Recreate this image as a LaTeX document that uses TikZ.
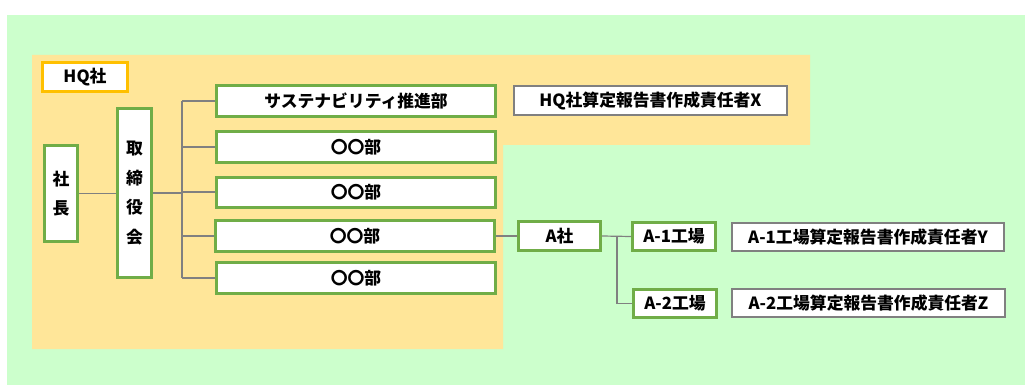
\documentclass[tikz,border=0pt]{standalone}
\usepackage{fontspec}
\newfontfamily\jp{Noto Sans CJK JP}
\definecolor{bggreen}{HTML}{CCFFCC}
\definecolor{hqorange}{HTML}{FFE699}
\definecolor{boxgreen}{HTML}{70AD47}
\definecolor{boxorange}{HTML}{FFC000}
\definecolor{boxgray}{HTML}{808080}
\definecolor{linegray}{HTML}{808080}
\tikzset{
  base/.style={rectangle, fill=white, inner sep=0pt, font=\jp\bfseries\fontsize{16.8}{29.5}\selectfont, align=center, text=black},
  gbox/.style={base, draw=boxgreen, line width=3pt},
  obox/.style={base, draw=boxorange, line width=3pt},
  rbox/.style={base, draw=boxgray, line width=2pt},
  conn/.style={draw=linegray, line width=1.2pt},
}
\begin{document}
\begin{tikzpicture}[x=1pt,y=-1pt]
\useasboundingbox (0,0) rectangle (1025,385);
\fill[white] (0,0) rectangle (1025,385);
\fill[bggreen] (7,15) rectangle (1025,385);
\fill[hqorange] (32,55) -- (810,55) -- (810,145) -- (503,145) -- (503,349) -- (32,349) -- cycle;

\node[obox, minimum width=85pt, minimum height=29pt] (hq) at (85,77) {HQ社};
\node[gbox, minimum width=279pt, minimum height=31pt] (sus) at (356,101) {サステナビリティ推進部};
\node[gbox, minimum width=279pt, minimum height=30pt] (d2) at (356,147) {〇〇部};
\node[gbox, minimum width=279pt, minimum height=30pt] (d3) at (356,192) {〇〇部};
\node[gbox, minimum width=279pt, minimum height=31pt] (d4) at (355,236) {〇〇部};
\node[gbox, minimum width=279pt, minimum height=31pt] (d5) at (356,278) {〇〇部};
\node[gbox, minimum width=33pt, minimum height=96pt] (pres) at (61,193.5) {社\\長};
\node[gbox, minimum width=34pt, minimum height=169pt] (board) at (134.5,193) {取\\締\\役\\会};
\node[rbox, minimum width=273pt, minimum height=29pt] (rx) at (650.5,100.5) {HQ社算定報告書作成責任者X};
\node[gbox, minimum width=82pt, minimum height=29pt] (a) at (559.5,236) {A社};
\node[gbox, minimum width=83pt, minimum height=28pt] (a1) at (674,236.5) {A-1工場};
\node[gbox, minimum width=83pt, minimum height=28pt] (a2) at (675,303.5) {A-2工場};
\node[rbox, minimum width=272pt, minimum height=28pt] (ry) at (868,237) {A-1工場算定報告書作成責任者Y};
\node[rbox, minimum width=273pt, minimum height=28pt] (rz) at (868.5,303) {A-2工場算定報告書作成責任者Z};

\coordinate (t) at (182,193);
\coordinate (u) at (617,236);
\draw[conn] (pres.east) -- (board.west |- pres.east);
\draw[conn] (board.east) -- (t);
\draw[conn] (t |- sus.west) -- (t |- d5.west);
\foreach \d in {sus,d2,d3,d4,d5} \draw[conn] (t |- \d.west) -- (\d.west);
\draw[conn] (d4.east) -- (a.west);
\draw[conn] (a.east) -- (a1.west);
\draw[conn] (u) |- (a2.west);
\end{tikzpicture}
\end{document}
